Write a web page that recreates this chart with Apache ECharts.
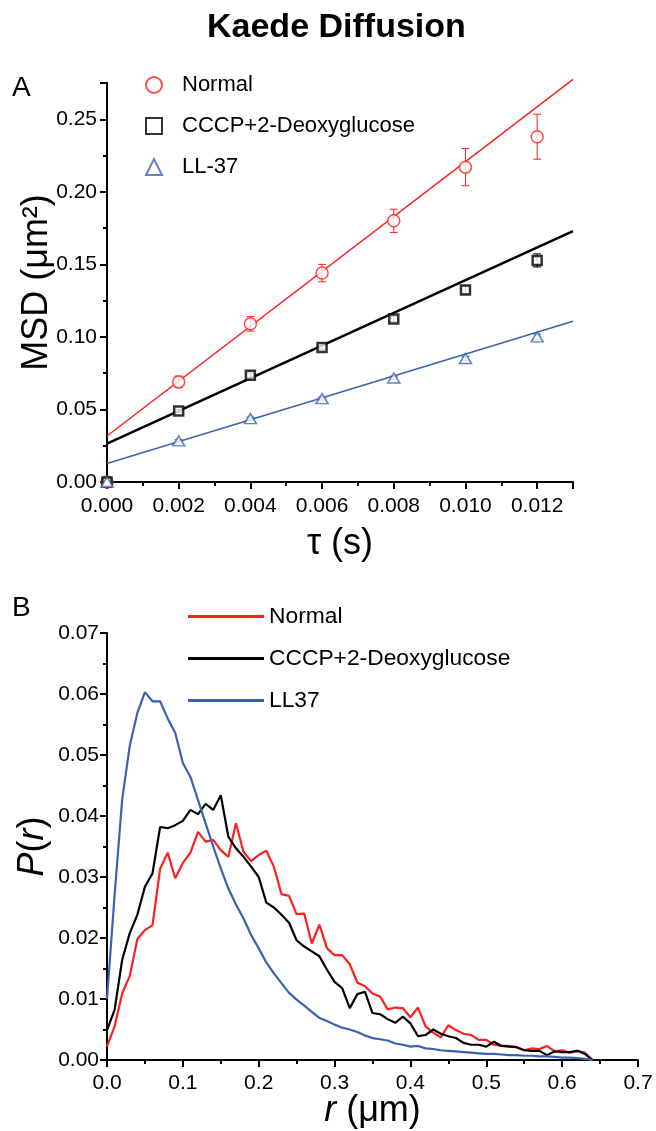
<!DOCTYPE html>
<html>
<head>
<meta charset="utf-8">
<script src="https://cdn.jsdelivr.net/npm/echarts@6/dist/echarts.min.js"></script>
<style>
  html, body { margin: 0; padding: 0; background: #fff; }
  #chart { width: 656px; height: 1131px; }
</style>
</head>
<body>
<div id="chart"></div>
<script>
// panel A: MSD vs tau
const tau = [0, 0.002, 0.004, 0.006, 0.008, 0.010, 0.012];
const msdNormal = [0, 0.069, 0.109, 0.144, 0.180, 0.217, 0.238];
const errNormal = [0, 0.004, 0.005, 0.006, 0.008, 0.0128, 0.0155];
const msdCccp = [0, 0.049, 0.0736, 0.0927, 0.1124, 0.1324, 0.1527];
const errCccp = [0, 0.001, 0.0015, 0.0015, 0.002, 0.0025, 0.0045];
const msdLl37 = [0, 0.0283, 0.0437, 0.0575, 0.0717, 0.0851, 0.100];
const errLl37 = [0, 0.0008, 0.001, 0.001, 0.0012, 0.0015, 0.002];
// linear fits (end points)
const fitNormal = [[0, 0.0317], [0.013, 0.2775]];
const fitCccp = [[0, 0.0265], [0.013, 0.1729]];
const fitLl37 = [[0, 0.0127], [0.013, 0.1108]];

// panel B: P(r)
const rVals = [0, 0.01, 0.02, 0.03, 0.04, 0.05, 0.06, 0.07, 0.08, 0.09,
  0.10, 0.11, 0.12, 0.13, 0.14, 0.15, 0.16, 0.17, 0.18, 0.19,
  0.20, 0.21, 0.22, 0.23, 0.24, 0.25, 0.26, 0.27, 0.28, 0.29,
  0.30, 0.31, 0.32, 0.33, 0.34, 0.35, 0.36, 0.37, 0.38, 0.39,
  0.40, 0.41, 0.42, 0.43, 0.44, 0.45, 0.46, 0.47, 0.48, 0.49,
  0.50, 0.51, 0.52, 0.53, 0.54, 0.55, 0.56, 0.57, 0.58, 0.59,
  0.60, 0.61, 0.62, 0.63, 0.64];
const pNormal = [0.0022, 0.0055, 0.0109, 0.0138, 0.0198, 0.0213, 0.0221, 0.0313, 0.034, 0.0298,
  0.0323, 0.034, 0.0374, 0.0358, 0.0361, 0.0344, 0.0333, 0.0388, 0.0341, 0.0326,
  0.0336, 0.0343, 0.0317, 0.0272, 0.0269, 0.0239, 0.024, 0.0191, 0.0222, 0.0183,
  0.0172, 0.0172, 0.0157, 0.0127, 0.0121, 0.0109, 0.0104, 0.0083, 0.0086, 0.0085,
  0.007, 0.0086, 0.0055, 0.0045, 0.0037, 0.0057, 0.0049, 0.0043, 0.0041, 0.0033,
  0.0033, 0.0025, 0.0023, 0.0023, 0.0021, 0.0016, 0.0019, 0.0018, 0.0023, 0.0014,
  0.0016, 0.0012, 0.0015, 0.0012, 0];
const pCccp = [0.0049, 0.0082, 0.0164, 0.0208, 0.0238, 0.0284, 0.0306, 0.0382, 0.038, 0.0385,
  0.0392, 0.041, 0.0403, 0.042, 0.041, 0.0434, 0.0366, 0.0347, 0.0333, 0.0317,
  0.03, 0.0258, 0.025, 0.0238, 0.0225, 0.0196, 0.0186, 0.0178, 0.017, 0.0148,
  0.0128, 0.0118, 0.0085, 0.0108, 0.0112, 0.0077, 0.0075, 0.0067, 0.0061, 0.0071,
  0.006, 0.0039, 0.0041, 0.005, 0.0043, 0.0039, 0.0036, 0.0028, 0.0025, 0.0025,
  0.0022, 0.003, 0.0023, 0.0022, 0.0021, 0.0016, 0.0015, 0.0015, 0.0008, 0.0014,
  0.0013, 0.0013, 0.0015, 0.001, 0];
const pLl37 = [0.010, 0.027, 0.0427, 0.0515, 0.0569, 0.0603, 0.0588, 0.0588, 0.056, 0.0536,
  0.0487, 0.0464, 0.0426, 0.0388, 0.035, 0.0314, 0.0281, 0.0255, 0.0232, 0.0205,
  0.0183, 0.016, 0.0142, 0.0126, 0.011, 0.0099, 0.0089, 0.0079, 0.0069, 0.0064,
  0.0058, 0.0053, 0.005, 0.0046, 0.004, 0.0036, 0.0034, 0.0032, 0.0027, 0.0025,
  0.0022, 0.0023, 0.0019, 0.0018, 0.0016, 0.0015, 0.0014, 0.0013, 0.0012, 0.0011,
  0.001, 0.001, 0.0009, 0.0008, 0.0008, 0.0007, 0.0007, 0.0006, 0.0006, 0.0005,
  0.0004, 0.0004, 0.0003, 0.0002, 0];

const RED = '#ff1f1f';
const BLUE = '#3a62b0';
const FONT = '"Liberation Sans", Arial, sans-serif';

const pairs = (xs, ys) => xs.map((x, i) => [x, ys[i]]);
const errData = (ys, es) => tau.map((x, i) => [x, ys[i] - es[i], ys[i] + es[i]]);

function errBar(color, width) {
  return function (params, api) {
    const x = api.value(0);
    const top = api.coord([x, api.value(2)]);
    const bot = api.coord([x, api.value(1)]);
    const w = 4;
    const st = { stroke: color, lineWidth: width };
    return {
      type: 'group',
      children: [
        { type: 'line', shape: { x1: top[0], y1: top[1], x2: bot[0], y2: bot[1] }, style: st },
        { type: 'line', shape: { x1: top[0] - w, y1: top[1], x2: top[0] + w, y2: top[1] }, style: st },
        { type: 'line', shape: { x1: bot[0] - w, y1: bot[1], x2: bot[0] + w, y2: bot[1] }, style: st }
      ]
    };
  };
}

function axisBase() {
  return {
    type: 'value',
    splitLine: { show: false },
    axisLine: { show: true, lineStyle: { color: '#000', width: 2 } },
    axisTick: { show: true, length: 7, lineStyle: { color: '#000', width: 2 } },
    minorTick: { show: true, splitNumber: 2, length: 4, lineStyle: { color: '#000', width: 2 } },
    axisLabel: { color: '#000', fontSize: 21, fontFamily: FONT, showMaxLabel: false },
    nameLocation: 'middle',
    nameMoveOverlap: false,
    nameTextStyle: { color: '#000', fontSize: 36, fontFamily: FONT,
      rich: { i: { fontStyle: 'italic', fontSize: 36, fontFamily: FONT, color: '#000' } } }
  };
}

const xA = axisBase();
Object.assign(xA, { gridIndex: 0, min: 0, max: 0.013, interval: 0.002, name: 'τ (s)', nameGap: 44 });
xA.axisLabel = Object.assign({}, xA.axisLabel, { margin: 14, formatter: v => v.toFixed(3) });

const yA = axisBase();
Object.assign(yA, { gridIndex: 0, min: 0, max: 0.275, interval: 0.05, name: 'MSD (μm²)', nameGap: 52 });
yA.axisLabel = Object.assign({}, yA.axisLabel, { margin: 10, formatter: v => v.toFixed(2) });

const xB = axisBase();
Object.assign(xB, { gridIndex: 1, min: 0, max: 0.7, interval: 0.1, name: '{i|r} (μm)', nameGap: 33 });
xB.axisLabel = Object.assign({}, xB.axisLabel, { margin: 13, showMaxLabel: true, formatter: v => v.toFixed(1) });

const yB = axisBase();
Object.assign(yB, { gridIndex: 1, min: 0, max: 0.07, interval: 0.01, name: '{i|P}({i|r})', nameGap: 56 });
yB.axisLabel = Object.assign({}, yB.axisLabel, { margin: 8, showMaxLabel: true, formatter: v => v.toFixed(2) });

const chart = echarts.init(document.getElementById('chart'), null, { renderer: 'canvas' });
chart.setOption({
  animation: false,
  backgroundColor: '#fff',
  textStyle: { fontFamily: FONT },
  graphic: [
    { type: 'text', left: 207, top: 11, style: { text: 'Kaede Diffusion', font: 'bold 34px ' + FONT, fill: '#000' } },
    { type: 'text', left: 12, top: 74, style: { text: 'A', font: '28px ' + FONT, fill: '#000' } },
    { type: 'text', left: 12, top: 594, style: { text: 'B', font: '28px ' + FONT, fill: '#000' } }
  ],
  grid: [
    { left: 107, top: 83, width: 466, height: 399 },
    { left: 107, top: 633, width: 531, height: 427 }
  ],
  xAxis: [xA, xB],
  yAxis: [yA, yB],
  legend: [
    {
      data: ['Normal', 'CCCP+2-Deoxyglucose', 'LL-37'],
      orient: 'vertical', left: 140, top: 69,
      itemWidth: 16, itemHeight: 16, itemGap: 19,
      textStyle: { color: '#000', fontSize: 22, fontFamily: FONT, padding: [0, 0, 0, 15] },
      selectedMode: false
    },
    {
      data: ['B Normal', 'B CCCP+2-Deoxyglucose', 'B LL37'],
      orient: 'vertical', left: 183, top: 600,
      icon: 'path://M0 0H76V3H0Z',
      itemWidth: 76, itemHeight: 3, itemGap: 19,
      formatter: name => name.replace(/^B /, ''),
      textStyle: { color: '#000', fontSize: 22.8, fontFamily: FONT, padding: [0, 0, 0, 0] },
      selectedMode: false
    }
  ],
  series: [
    { name: 'Normal fit', type: 'line', xAxisIndex: 0, yAxisIndex: 0, data: fitNormal, symbol: 'none', clip: false,
      lineStyle: { color: RED, width: 1.5 }, z: 2 },
    { name: 'CCCP fit', type: 'line', xAxisIndex: 0, yAxisIndex: 0, data: fitCccp, symbol: 'none', clip: false,
      lineStyle: { color: '#000', width: 2.5 }, z: 2 },
    { name: 'LL-37 fit', type: 'line', xAxisIndex: 0, yAxisIndex: 0, data: fitLl37, symbol: 'none', clip: false,
      lineStyle: { color: BLUE, width: 1.5 }, z: 2 },
    { name: 'Normal err', type: 'custom', xAxisIndex: 0, yAxisIndex: 0, data: errData(msdNormal, errNormal),
      renderItem: errBar(RED, 1), encode: { x: 0, y: [1, 2] }, z: 3 },
    { name: 'CCCP err', type: 'custom', xAxisIndex: 0, yAxisIndex: 0, data: errData(msdCccp, errCccp),
      renderItem: errBar('#000', 1), encode: { x: 0, y: [1, 2] }, z: 3 },
    { name: 'LL-37 err', type: 'custom', xAxisIndex: 0, yAxisIndex: 0, data: errData(msdLl37, errLl37),
      renderItem: errBar(BLUE, 1), encode: { x: 0, y: [1, 2] }, z: 3 },
    { name: 'Normal', type: 'scatter', xAxisIndex: 0, yAxisIndex: 0, data: pairs(tau, msdNormal), clip: false,
      symbol: 'circle', symbolSize: 12, itemStyle: { color: '#fff', borderColor: RED, borderWidth: 1.5 }, z: 4 },
    { name: 'CCCP+2-Deoxyglucose', type: 'scatter', xAxisIndex: 0, yAxisIndex: 0, data: pairs(tau, msdCccp), clip: false,
      symbol: 'rect', symbolSize: 9, itemStyle: { color: '#fff', borderColor: '#000', borderWidth: 2.5 }, z: 4 },
    { name: 'LL-37', type: 'scatter', xAxisIndex: 0, yAxisIndex: 0, data: pairs(tau, msdLl37), clip: false,
      symbol: 'triangle', symbolSize: [12, 10], itemStyle: { color: '#fff', borderColor: BLUE, borderWidth: 1.5 }, z: 4 },

    { name: 'B Normal', type: 'line', xAxisIndex: 1, yAxisIndex: 1, data: pairs(rVals, pNormal), symbol: 'none',
      lineStyle: { color: RED, width: 2.2 }, itemStyle: { color: RED } },
    { name: 'B CCCP+2-Deoxyglucose', type: 'line', xAxisIndex: 1, yAxisIndex: 1, data: pairs(rVals, pCccp), symbol: 'none',
      lineStyle: { color: '#000', width: 2.2 }, itemStyle: { color: '#000' } },
    { name: 'B LL37', type: 'line', xAxisIndex: 1, yAxisIndex: 1, data: pairs(rVals, pLl37), symbol: 'none',
      lineStyle: { color: BLUE, width: 2.2 }, itemStyle: { color: BLUE } }
  ]
});
</script>
</body>
</html>
